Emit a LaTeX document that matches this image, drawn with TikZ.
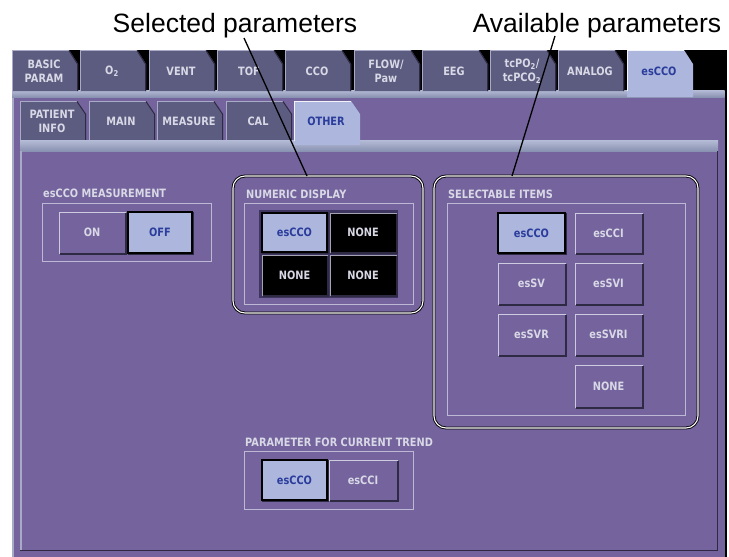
\documentclass[tikz,border=0pt]{standalone}
\usepackage{fontspec}
\setmainfont{Liberation Sans}
\newfontfamily\scr{DejaVu Sans}[FakeStretch=0.85]
\definecolor{bgp}{HTML}{74639C}
\definecolor{tabgray}{HTML}{5C5C80}
\definecolor{tabhi}{HTML}{A8AAC6}
\definecolor{tabdk}{HTML}{2E2A44}
\definecolor{tabtext}{HTML}{D8D8E6}
\definecolor{selfill}{HTML}{ADB7DD}
\definecolor{seltext}{HTML}{2A3C9C}
\definecolor{barhi}{HTML}{B4BCD6}
\definecolor{barlo}{HTML}{8A92B2}
\definecolor{grpline}{HTML}{BDB8D4}
\definecolor{btnhi}{HTML}{CCCCDE}
\definecolor{griddk}{HTML}{3E3660}
\tikzset{
  scrfont/.style={font=\scr\bfseries\fontsize{11.5}{14}\selectfont},
  tabtxt/.style={scrfont, text=tabtext, align=center, inner sep=0pt},
  seltabtxt/.style={scrfont, text=seltext, align=center, inner sep=0pt},
  grplabel/.style={scrfont, text=tabtext, anchor=base west, inner sep=0pt},
  grpbox/.style={draw=grpline, line width=1pt},
  plainbtn/.style={scrfont, fill=bgp, draw=btnhi, line width=1pt, text=tabtext, inner sep=0pt},
  selbtn/.style={scrfont, fill=selfill, draw=black, line width=1.6pt, text=seltext, inner sep=0pt},
  blackbtn/.style={scrfont, fill=black, draw=btnhi!80!black, line width=1pt, text=tabtext, inner sep=0pt},
  callout/.style={draw=black, double=white, double distance=1.1pt, line width=0.9pt, rounded corners=12pt, inner sep=0pt},
  caption/.style={font=\fontsize{26.5}{30}\selectfont, text=black, inner sep=0pt},
  leader/.style={draw=black, line width=1.3pt},
}
\newcommand\mkbtn[7]{%
  \node[#6, minimum width=#4pt, minimum height=#5pt] (#1) at (#2,#3) {#7};
  \draw[tabdk, line width=1.5pt] ([xshift=1pt,yshift=-0.5pt]#1.south west) -- ([xshift=0.5pt,yshift=-0.5pt]#1.south east) -- ([xshift=0.5pt,yshift=-1pt]#1.north east);
}
\begin{document}
\begin{tikzpicture}[x=1pt,y=-1pt]
\useasboundingbox (0,0) rectangle (729,557);
% screen background
\fill[black] (12,50) rectangle (727,92);
\fill[bgp] (12,97) rectangle (727,557);
\draw[tabhi, line width=1.5pt] (12.8,557) -- (12.8,97);
\draw[black, line width=2pt] (725.5,92) -- (725.5,557);
\shade[top color=barhi, bottom color=barlo] (12,90) rectangle (724.5,97);
% top tabs
\foreach \x/\n/\t in {12/tbasic/{BASIC\\PARAM}, 80/toxy/{O\textsubscript{2}}, 149/tvent/{VENT}, 217/ttof/{TOF}, 285/tcco/{CCO}, 354/tflow/{FLOW/\\Paw}, 422/teeg/{EEG}, 490/ttcpo/{tcPO\textsubscript{2}/\\tcPCO\textsubscript{2}}, 558/tanalog/{ANALOG}}{
  \fill[tabgray] (\x,91) -- (\x,50) -- (\x+57,50) -- (\x+66,64) -- (\x+66,91) -- cycle;
  \draw[tabhi, line width=1pt] (\x+0.5,91) -- (\x+0.5,50.5) -- (\x+57,50.5);
  \draw[tabdk, line width=1pt] (\x+57,50.5) -- (\x+65.5,64) -- (\x+65.5,91);
  \node[tabtxt] (\n) at (\x+32,71) {\t};
}
\fill[selfill] (627,97) -- (627,50) -- (684,50) -- (693,64) -- (693,97) -- cycle;
\draw[white!85!selfill, line width=1pt] (627.5,91) -- (627.5,50.5) -- (684,50.5);
\node[seltabtxt] (tescco) at (659,71) {esCCO};
% second row tabs
\foreach \x/\n/\t in {20/tpat/{PATIENT\\INFO}, 89/tmain/{MAIN}, 157/tmeas/{MEASURE}, 226/tcal/{CAL}}{
  \fill[tabgray] (\x,141) -- (\x,101) -- (\x+57,101) -- (\x+66,114) -- (\x+66,141) -- cycle;
  \draw[tabhi, line width=1pt] (\x+0.5,141) -- (\x+0.5,101.5) -- (\x+57,101.5);
  \draw[tabdk, line width=1pt] (\x+57,101.5) -- (\x+65.5,114) -- (\x+65.5,141);
  \node[tabtxt] (\n) at (\x+32,121) {\t};
}
% inner frame
\shade[top color=barhi, bottom color=barlo] (20,140) rectangle (718,151);
\fill[selfill] (294,145) -- (294,101) -- (351,101) -- (360,114) -- (360,145) -- cycle;
\draw[white!85!selfill, line width=1pt] (294.5,141) -- (294.5,101.5) -- (351,101.5);
\node[seltabtxt] (tother) at (326,121) {OTHER};
\draw[tabhi, line width=1.5pt] (20.8,151) -- (20.8,550);
\draw[tabdk, line width=1.5pt] (20,550.3) -- (717.3,550.3) -- (717.3,151);
% esCCO measurement group
\node[grplabel] (lmeas) at (43,197) {esCCO MEASUREMENT};
\draw[grpbox] (42,203) rectangle (211,261);
\mkbtn{bon}{92}{232.5}{66}{41}{plainbtn}{ON}
\mkbtn{boff}{160}{232.5}{64}{41}{selbtn}{OFF}
% numeric display group
\node[callout, minimum width=190pt, minimum height=137pt] (numcall) at (328,244.5) {};
\node[grplabel] (lnum) at (246,198) {NUMERIC DISPLAY};
\draw[grpbox] (244,203) rectangle (413,304);
\fill[griddk] (259,210) rectangle (398,298);
\mkbtn{n1}{294.5}{232.5}{65}{39}{selbtn}{esCCO}
\mkbtn{n2}{363}{232.5}{66}{39}{blackbtn}{NONE}
\mkbtn{n3}{294.5}{275}{65}{40}{blackbtn}{NONE}
\mkbtn{n4}{363}{275}{66}{40}{blackbtn}{NONE}
% selectable items group
\node[callout, minimum width=264pt, minimum height=252pt] (selcall) at (566,302) {};
\node[grplabel] (lsel) at (448,198) {SELECTABLE ITEMS};
\draw[grpbox] (447,203) rectangle (685,415);
\mkbtn{s1}{531.5}{233}{67}{40}{selbtn}{esCCO}
\mkbtn{s2}{608.5}{233}{67}{40}{plainbtn}{esCCI}
\mkbtn{s3}{531.5}{283.5}{67}{41}{plainbtn}{esSV}
\mkbtn{s4}{608.5}{283.5}{67}{41}{plainbtn}{esSVI}
\mkbtn{s5}{531.5}{334.5}{67}{41}{plainbtn}{esSVR}
\mkbtn{s6}{608.5}{334.5}{67}{41}{plainbtn}{esSVRI}
\mkbtn{s7}{608.5}{386}{67}{42}{plainbtn}{NONE}
% trend group
\node[grplabel] (ltrend) at (245,446) {PARAMETER FOR CURRENT TREND};
\draw[grpbox] (244,451) rectangle (413,509);
\mkbtn{t1}{294.5}{480}{65}{40}{selbtn}{esCCO}
\mkbtn{t2}{363}{480}{68}{40}{plainbtn}{esCCI}
% captions and leaders
\node[caption, anchor=base] (selcap) at (235,32) {Selected parameters};
\node[caption, anchor=base] (availcap) at (597,32) {Available parameters};
\coordinate (selA) at (244,38);
\coordinate (selB) at (307,176);
\coordinate (avA) at (555,36);
\coordinate (avB) at (512,176);
\draw[leader] (selA) -- (selB);
\draw[leader] (avA) -- (avB);
\end{tikzpicture}
\end{document}
